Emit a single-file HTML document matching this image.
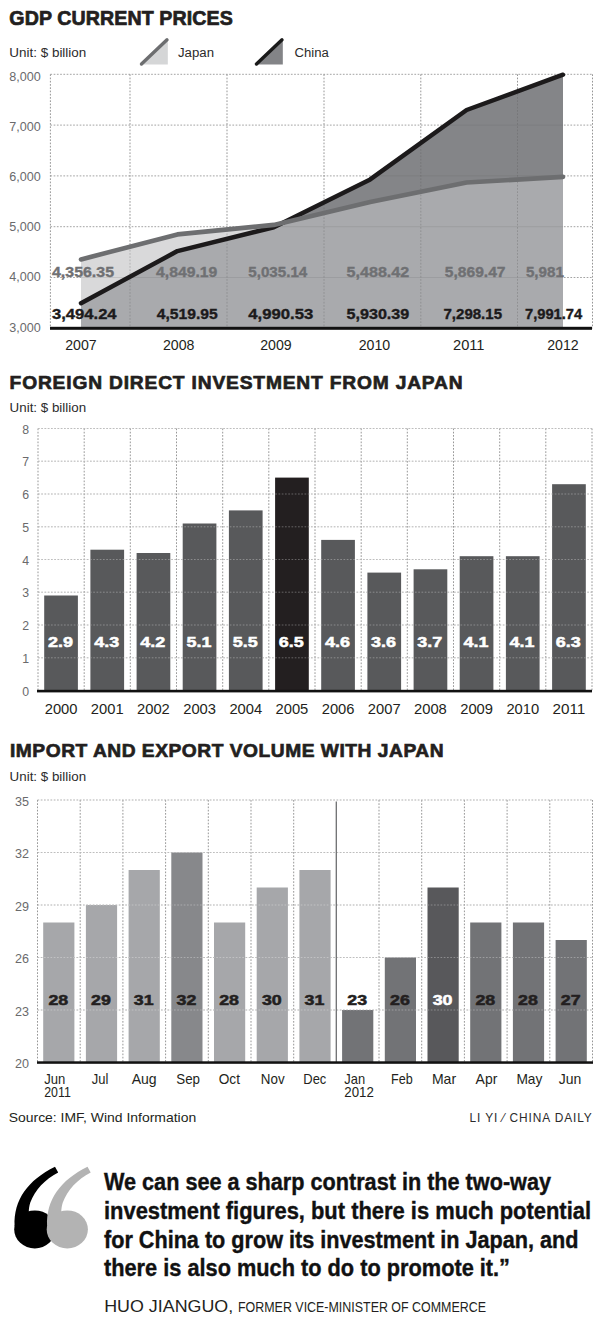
<!DOCTYPE html>
<html><head><meta charset="utf-8"><style>
html,body{margin:0;padding:0;background:#fff;width:600px;height:1323px;overflow:hidden}
svg{display:block}
text{font-family:"Liberation Sans", sans-serif}
</style></head><body>
<svg width="600" height="1323" viewBox="0 0 600 1323">
<rect width="600" height="1323" fill="#fff"/>
<text x="9.3" y="25" font-size="19.6" fill="#231f20" font-weight="bold" textLength="223.5" lengthAdjust="spacing" stroke="#231f20" stroke-width="0.7">GDP CURRENT PRICES</text>
<text x="9.3" y="57" font-size="12.8" fill="#2b2b2b" textLength="77" lengthAdjust="spacingAndGlyphs">Unit: $ billion</text>
<text x="9.6" y="389" font-size="19.2" fill="#231f20" font-weight="bold" textLength="453" lengthAdjust="spacing" stroke="#231f20" stroke-width="0.7">FOREIGN DIRECT INVESTMENT FROM JAPAN</text>
<text x="9.6" y="412" font-size="12.8" fill="#2b2b2b" textLength="76.5" lengthAdjust="spacingAndGlyphs">Unit: $ billion</text>
<text x="10" y="757" font-size="19.2" fill="#231f20" font-weight="bold" textLength="433.5" lengthAdjust="spacing" stroke="#231f20" stroke-width="0.7">IMPORT AND EXPORT VOLUME WITH JAPAN</text>
<text x="9.6" y="781" font-size="12.8" fill="#2b2b2b" textLength="76.5" lengthAdjust="spacingAndGlyphs">Unit: $ billion</text>
<polygon points="141,64.5 167.8,39 167.8,64.5" fill="#d5d6d7"/>
<line x1="141.5" y1="64" x2="167" y2="39.8" stroke="#6d6e70" stroke-width="3.4" stroke-linecap="round"/>
<text x="178" y="56.8" font-size="12.3" fill="#2b2b2b" textLength="36" lengthAdjust="spacingAndGlyphs">Japan</text>
<polygon points="256,64.5 282.8,39 282.8,64.5" fill="#838487"/>
<line x1="256.5" y1="64" x2="282" y2="39.8" stroke="#1a1a1a" stroke-width="3.4" stroke-linecap="round"/>
<text x="294.5" y="56.8" font-size="12.3" fill="#2b2b2b" textLength="34.3" lengthAdjust="spacingAndGlyphs">China</text>
<line x1="50.4" y1="328.3" x2="592.5" y2="328.3" stroke="#a3a3a3" stroke-width="1" stroke-dasharray="1.7 1.55"/>
<line x1="50.4" y1="277.5" x2="592.5" y2="277.5" stroke="#a3a3a3" stroke-width="1" stroke-dasharray="1.7 1.55"/>
<line x1="50.4" y1="226.7" x2="592.5" y2="226.7" stroke="#a3a3a3" stroke-width="1" stroke-dasharray="1.7 1.55"/>
<line x1="50.4" y1="175.9" x2="592.5" y2="175.9" stroke="#a3a3a3" stroke-width="1" stroke-dasharray="1.7 1.55"/>
<line x1="50.4" y1="125.1" x2="592.5" y2="125.1" stroke="#a3a3a3" stroke-width="1" stroke-dasharray="1.7 1.55"/>
<line x1="50.4" y1="74.3" x2="592.5" y2="74.3" stroke="#a3a3a3" stroke-width="1" stroke-dasharray="1.7 1.55"/>
<line x1="50.4" y1="74.3" x2="50.4" y2="328.3" stroke="#979797" stroke-width="1" stroke-dasharray="1.7 1.55"/>
<line x1="130" y1="74.3" x2="130" y2="328.3" stroke="#979797" stroke-width="1" stroke-dasharray="1.7 1.55"/>
<line x1="227" y1="74.3" x2="227" y2="328.3" stroke="#979797" stroke-width="1" stroke-dasharray="1.7 1.55"/>
<line x1="324" y1="74.3" x2="324" y2="328.3" stroke="#979797" stroke-width="1" stroke-dasharray="1.7 1.55"/>
<line x1="420.8" y1="74.3" x2="420.8" y2="328.3" stroke="#979797" stroke-width="1" stroke-dasharray="1.7 1.55"/>
<line x1="517.5" y1="74.3" x2="517.5" y2="328.3" stroke="#979797" stroke-width="1" stroke-dasharray="1.7 1.55"/>
<line x1="592.5" y1="74.3" x2="592.5" y2="328.3" stroke="#979797" stroke-width="1" stroke-dasharray="1.7 1.55"/>
<defs><clipPath id="cc"><polygon points="81.0,328.3 81.0,303.2 177.4,251.1 273.8,227.2 370.2,179.4 466.6,110.0 563.0,74.7 563.0,328.3"/></clipPath></defs>
<polygon points="81.0,328.3 81.0,259.4 177.4,234.4 273.8,224.9 370.2,201.9 466.6,182.5 563.0,176.9 563.0,328.3" fill="#d9d9da"/>
<polygon points="81.0,328.3 81.0,303.2 177.4,251.1 273.8,227.2 370.2,179.4 466.6,110.0 563.0,74.7 563.0,328.3" fill="#848588"/>
<polygon points="81.0,328.3 81.0,259.4 177.4,234.4 273.8,224.9 370.2,201.9 466.6,182.5 563.0,176.9 563.0,328.3" fill="#a9aaad" clip-path="url(#cc)"/>
<defs><clipPath id="mx"><polygon points="81.0,328.3 81.0,259.4 177.4,234.4 273.8,224.9 282.6,222.8 370.2,179.4 466.6,110.0 563.0,74.7 563.0,328.3"/></clipPath></defs>
<g clip-path="url(#mx)">
<line x1="130" y1="74.3" x2="130" y2="328.3" stroke="#555" stroke-opacity="0.3" stroke-width="1" stroke-dasharray="1.7 1.55"/>
<line x1="227" y1="74.3" x2="227" y2="328.3" stroke="#555" stroke-opacity="0.3" stroke-width="1" stroke-dasharray="1.7 1.55"/>
<line x1="324" y1="74.3" x2="324" y2="328.3" stroke="#555" stroke-opacity="0.3" stroke-width="1" stroke-dasharray="1.7 1.55"/>
<line x1="420.8" y1="74.3" x2="420.8" y2="328.3" stroke="#555" stroke-opacity="0.3" stroke-width="1" stroke-dasharray="1.7 1.55"/>
<line x1="517.5" y1="74.3" x2="517.5" y2="328.3" stroke="#555" stroke-opacity="0.3" stroke-width="1" stroke-dasharray="1.7 1.55"/>
<line x1="81.0" y1="277.5" x2="563.0" y2="277.5" stroke="#555" stroke-opacity="0.15" stroke-width="1"/>
<line x1="81.0" y1="226.7" x2="563.0" y2="226.7" stroke="#555" stroke-opacity="0.15" stroke-width="1"/>
<line x1="81.0" y1="175.9" x2="563.0" y2="175.9" stroke="#555" stroke-opacity="0.15" stroke-width="1"/>
<line x1="81.0" y1="125.1" x2="563.0" y2="125.1" stroke="#555" stroke-opacity="0.15" stroke-width="1"/>
<line x1="81.0" y1="74.3" x2="563.0" y2="74.3" stroke="#555" stroke-opacity="0.15" stroke-width="1"/>
</g>
<polyline points="81.0,303.2 177.4,251.1 273.8,227.2 370.2,179.4 466.6,110.0 563.0,74.7" fill="none" stroke="#1c1a1b" stroke-width="4.5" stroke-linecap="round" stroke-linejoin="round"/>
<polyline points="81.0,259.4 177.4,234.4 273.8,224.9 370.2,201.9 466.6,182.5 563.0,176.9" fill="none" stroke="#6d6e70" stroke-width="4.6" stroke-linecap="round" stroke-linejoin="round"/>
<rect x="50" y="326.8" width="542" height="3" fill="#111"/>
<text x="40.8" y="331.5" font-size="12" fill="#6a6a6c" text-anchor="end" textLength="31.5" lengthAdjust="spacingAndGlyphs">3,000</text>
<text x="40.8" y="281.3" font-size="12" fill="#6a6a6c" text-anchor="end" textLength="31.5" lengthAdjust="spacingAndGlyphs">4,000</text>
<text x="40.8" y="231.1" font-size="12" fill="#6a6a6c" text-anchor="end" textLength="31.5" lengthAdjust="spacingAndGlyphs">5,000</text>
<text x="40.8" y="180.9" font-size="12" fill="#6a6a6c" text-anchor="end" textLength="31.5" lengthAdjust="spacingAndGlyphs">6,000</text>
<text x="40.8" y="130.7" font-size="12" fill="#6a6a6c" text-anchor="end" textLength="31.5" lengthAdjust="spacingAndGlyphs">7,000</text>
<text x="40.8" y="80.5" font-size="12" fill="#6a6a6c" text-anchor="end" textLength="31.5" lengthAdjust="spacingAndGlyphs">8,000</text>
<text x="81" y="350" font-size="14.2" fill="#231f20" text-anchor="middle" textLength="31.5" lengthAdjust="spacingAndGlyphs">2007</text>
<text x="178.75" y="350" font-size="14.2" fill="#231f20" text-anchor="middle" textLength="31.5" lengthAdjust="spacingAndGlyphs">2008</text>
<text x="276" y="350" font-size="14.2" fill="#231f20" text-anchor="middle" textLength="31.5" lengthAdjust="spacingAndGlyphs">2009</text>
<text x="374.5" y="350" font-size="14.2" fill="#231f20" text-anchor="middle" textLength="31.5" lengthAdjust="spacingAndGlyphs">2010</text>
<text x="468.75" y="350" font-size="14.2" fill="#231f20" text-anchor="middle" textLength="31.5" lengthAdjust="spacingAndGlyphs">2011</text>
<text x="563" y="350" font-size="14.2" fill="#231f20" text-anchor="middle" textLength="31.5" lengthAdjust="spacingAndGlyphs">2012</text>
<text x="52" y="277.3" font-size="14" fill="#6f7073" font-weight="bold" textLength="62" lengthAdjust="spacingAndGlyphs" stroke="#6f7073" stroke-width="0.35">4,356.35</text>
<text x="156" y="277.3" font-size="14" fill="#6f7073" font-weight="bold" textLength="61.3" lengthAdjust="spacingAndGlyphs" stroke="#6f7073" stroke-width="0.35">4,849.19</text>
<text x="248.3" y="277.3" font-size="14" fill="#6f7073" font-weight="bold" textLength="59" lengthAdjust="spacingAndGlyphs" stroke="#6f7073" stroke-width="0.35">5,035.14</text>
<text x="346.5" y="277.3" font-size="14" fill="#6f7073" font-weight="bold" textLength="62.8" lengthAdjust="spacingAndGlyphs" stroke="#6f7073" stroke-width="0.35">5,488.42</text>
<text x="444.8" y="277.3" font-size="14" fill="#6f7073" font-weight="bold" textLength="60.7" lengthAdjust="spacingAndGlyphs" stroke="#6f7073" stroke-width="0.35">5,869.47</text>
<text x="525.9" y="277.3" font-size="14" fill="#6f7073" font-weight="bold" textLength="38" lengthAdjust="spacingAndGlyphs" stroke="#6f7073" stroke-width="0.35">5,981</text>
<text x="52" y="319.3" font-size="14" fill="#1c1a1b" font-weight="bold" textLength="64.6" lengthAdjust="spacingAndGlyphs" stroke="#1c1a1b" stroke-width="0.35">3,494.24</text>
<text x="156.7" y="319.3" font-size="14" fill="#1c1a1b" font-weight="bold" textLength="61" lengthAdjust="spacingAndGlyphs" stroke="#1c1a1b" stroke-width="0.35">4,519.95</text>
<text x="248.3" y="319.3" font-size="14" fill="#1c1a1b" font-weight="bold" textLength="65" lengthAdjust="spacingAndGlyphs" stroke="#1c1a1b" stroke-width="0.35">4,990.53</text>
<text x="346.5" y="319.3" font-size="14" fill="#1c1a1b" font-weight="bold" textLength="62.8" lengthAdjust="spacingAndGlyphs" stroke="#1c1a1b" stroke-width="0.35">5,930.39</text>
<text x="443.5" y="319.3" font-size="14" fill="#1c1a1b" font-weight="bold" textLength="58.5" lengthAdjust="spacingAndGlyphs" stroke="#1c1a1b" stroke-width="0.35">7,298.15</text>
<text x="525" y="319.3" font-size="14" fill="#1c1a1b" font-weight="bold" textLength="57.2" lengthAdjust="spacingAndGlyphs" stroke="#1c1a1b" stroke-width="0.35">7,991.74</text>
<line x1="38" y1="690.5" x2="592" y2="690.5" stroke="#a3a3a3" stroke-width="1" stroke-dasharray="1.7 1.55"/>
<text x="29" y="695.5" font-size="12.3" fill="#6a6a6c" text-anchor="end">0</text>
<line x1="38" y1="657.8" x2="592" y2="657.8" stroke="#a3a3a3" stroke-width="1" stroke-dasharray="1.7 1.55"/>
<text x="29" y="662.8" font-size="12.3" fill="#6a6a6c" text-anchor="end">1</text>
<line x1="38" y1="625.0" x2="592" y2="625.0" stroke="#a3a3a3" stroke-width="1" stroke-dasharray="1.7 1.55"/>
<text x="29" y="630.0" font-size="12.3" fill="#6a6a6c" text-anchor="end">2</text>
<line x1="38" y1="592.2" x2="592" y2="592.2" stroke="#a3a3a3" stroke-width="1" stroke-dasharray="1.7 1.55"/>
<text x="29" y="597.2" font-size="12.3" fill="#6a6a6c" text-anchor="end">3</text>
<line x1="38" y1="559.5" x2="592" y2="559.5" stroke="#a3a3a3" stroke-width="1" stroke-dasharray="1.7 1.55"/>
<text x="29" y="564.5" font-size="12.3" fill="#6a6a6c" text-anchor="end">4</text>
<line x1="38" y1="526.8" x2="592" y2="526.8" stroke="#a3a3a3" stroke-width="1" stroke-dasharray="1.7 1.55"/>
<text x="29" y="531.8" font-size="12.3" fill="#6a6a6c" text-anchor="end">5</text>
<line x1="38" y1="494.0" x2="592" y2="494.0" stroke="#a3a3a3" stroke-width="1" stroke-dasharray="1.7 1.55"/>
<text x="29" y="499.0" font-size="12.3" fill="#6a6a6c" text-anchor="end">6</text>
<line x1="38" y1="461.2" x2="592" y2="461.2" stroke="#a3a3a3" stroke-width="1" stroke-dasharray="1.7 1.55"/>
<text x="29" y="466.2" font-size="12.3" fill="#6a6a6c" text-anchor="end">7</text>
<line x1="38" y1="428.5" x2="592" y2="428.5" stroke="#a3a3a3" stroke-width="1" stroke-dasharray="1.7 1.55"/>
<text x="29" y="433.5" font-size="12.3" fill="#6a6a6c" text-anchor="end">8</text>
<line x1="38.0" y1="428.5" x2="38.0" y2="690.5" stroke="#979797" stroke-width="1" stroke-dasharray="1.7 1.55"/>
<line x1="84.2" y1="428.5" x2="84.2" y2="690.5" stroke="#979797" stroke-width="1" stroke-dasharray="1.7 1.55"/>
<line x1="130.3" y1="428.5" x2="130.3" y2="690.5" stroke="#979797" stroke-width="1" stroke-dasharray="1.7 1.55"/>
<line x1="176.5" y1="428.5" x2="176.5" y2="690.5" stroke="#979797" stroke-width="1" stroke-dasharray="1.7 1.55"/>
<line x1="222.7" y1="428.5" x2="222.7" y2="690.5" stroke="#979797" stroke-width="1" stroke-dasharray="1.7 1.55"/>
<line x1="268.8" y1="428.5" x2="268.8" y2="690.5" stroke="#979797" stroke-width="1" stroke-dasharray="1.7 1.55"/>
<line x1="315.0" y1="428.5" x2="315.0" y2="690.5" stroke="#979797" stroke-width="1" stroke-dasharray="1.7 1.55"/>
<line x1="361.2" y1="428.5" x2="361.2" y2="690.5" stroke="#979797" stroke-width="1" stroke-dasharray="1.7 1.55"/>
<line x1="407.3" y1="428.5" x2="407.3" y2="690.5" stroke="#979797" stroke-width="1" stroke-dasharray="1.7 1.55"/>
<line x1="453.5" y1="428.5" x2="453.5" y2="690.5" stroke="#979797" stroke-width="1" stroke-dasharray="1.7 1.55"/>
<line x1="499.7" y1="428.5" x2="499.7" y2="690.5" stroke="#979797" stroke-width="1" stroke-dasharray="1.7 1.55"/>
<line x1="545.8" y1="428.5" x2="545.8" y2="690.5" stroke="#979797" stroke-width="1" stroke-dasharray="1.7 1.55"/>
<line x1="592.0" y1="428.5" x2="592.0" y2="690.5" stroke="#979797" stroke-width="1" stroke-dasharray="1.7 1.55"/>
<rect x="44.2" y="595.5" width="33.7" height="95.0" fill="#58595b"/>
<rect x="90.4" y="549.7" width="33.7" height="140.8" fill="#58595b"/>
<rect x="136.6" y="553.0" width="33.7" height="137.5" fill="#58595b"/>
<rect x="182.7" y="523.5" width="33.7" height="167.0" fill="#58595b"/>
<rect x="228.9" y="510.4" width="33.7" height="180.1" fill="#58595b"/>
<rect x="275.1" y="477.6" width="33.7" height="212.9" fill="#231f20"/>
<rect x="321.2" y="539.9" width="33.7" height="150.6" fill="#58595b"/>
<rect x="367.4" y="572.6" width="33.7" height="117.9" fill="#58595b"/>
<rect x="413.6" y="569.3" width="33.7" height="121.2" fill="#58595b"/>
<rect x="459.7" y="556.2" width="33.7" height="134.3" fill="#58595b"/>
<rect x="505.9" y="556.2" width="33.7" height="134.3" fill="#58595b"/>
<rect x="552.1" y="484.2" width="33.7" height="206.3" fill="#58595b"/>
<line x1="38" y1="657.8" x2="592" y2="657.8" stroke="#ffffff" stroke-opacity="0.3" stroke-width="1" stroke-dasharray="1.7 1.55"/>
<line x1="38" y1="625.0" x2="592" y2="625.0" stroke="#ffffff" stroke-opacity="0.3" stroke-width="1" stroke-dasharray="1.7 1.55"/>
<line x1="38" y1="592.2" x2="592" y2="592.2" stroke="#ffffff" stroke-opacity="0.3" stroke-width="1" stroke-dasharray="1.7 1.55"/>
<line x1="38" y1="559.5" x2="592" y2="559.5" stroke="#ffffff" stroke-opacity="0.3" stroke-width="1" stroke-dasharray="1.7 1.55"/>
<line x1="38" y1="526.8" x2="592" y2="526.8" stroke="#ffffff" stroke-opacity="0.3" stroke-width="1" stroke-dasharray="1.7 1.55"/>
<line x1="38" y1="494.0" x2="592" y2="494.0" stroke="#ffffff" stroke-opacity="0.3" stroke-width="1" stroke-dasharray="1.7 1.55"/>
<line x1="38" y1="461.2" x2="592" y2="461.2" stroke="#ffffff" stroke-opacity="0.3" stroke-width="1" stroke-dasharray="1.7 1.55"/>
<line x1="38" y1="428.5" x2="592" y2="428.5" stroke="#ffffff" stroke-opacity="0.3" stroke-width="1" stroke-dasharray="1.7 1.55"/>
<rect x="37" y="689.8" width="555" height="2.6" fill="#111"/>
<text x="60.5" y="647.4" font-size="14.8" fill="#ffffff" font-weight="bold" text-anchor="middle" textLength="25" lengthAdjust="spacingAndGlyphs" stroke="#ffffff" stroke-width="0.5">2.9</text>
<text x="106.7" y="647.4" font-size="14.8" fill="#ffffff" font-weight="bold" text-anchor="middle" textLength="25" lengthAdjust="spacingAndGlyphs" stroke="#ffffff" stroke-width="0.5">4.3</text>
<text x="152.8" y="647.4" font-size="14.8" fill="#ffffff" font-weight="bold" text-anchor="middle" textLength="25" lengthAdjust="spacingAndGlyphs" stroke="#ffffff" stroke-width="0.5">4.2</text>
<text x="199.0" y="647.4" font-size="14.8" fill="#ffffff" font-weight="bold" text-anchor="middle" textLength="25" lengthAdjust="spacingAndGlyphs" stroke="#ffffff" stroke-width="0.5">5.1</text>
<text x="245.2" y="647.4" font-size="14.8" fill="#ffffff" font-weight="bold" text-anchor="middle" textLength="25" lengthAdjust="spacingAndGlyphs" stroke="#ffffff" stroke-width="0.5">5.5</text>
<text x="291.3" y="647.4" font-size="14.8" fill="#ffffff" font-weight="bold" text-anchor="middle" textLength="25" lengthAdjust="spacingAndGlyphs" stroke="#ffffff" stroke-width="0.5">6.5</text>
<text x="337.5" y="647.4" font-size="14.8" fill="#ffffff" font-weight="bold" text-anchor="middle" textLength="25" lengthAdjust="spacingAndGlyphs" stroke="#ffffff" stroke-width="0.5">4.6</text>
<text x="383.6" y="647.4" font-size="14.8" fill="#ffffff" font-weight="bold" text-anchor="middle" textLength="25" lengthAdjust="spacingAndGlyphs" stroke="#ffffff" stroke-width="0.5">3.6</text>
<text x="429.8" y="647.4" font-size="14.8" fill="#ffffff" font-weight="bold" text-anchor="middle" textLength="25" lengthAdjust="spacingAndGlyphs" stroke="#ffffff" stroke-width="0.5">3.7</text>
<text x="476.0" y="647.4" font-size="14.8" fill="#ffffff" font-weight="bold" text-anchor="middle" textLength="25" lengthAdjust="spacingAndGlyphs" stroke="#ffffff" stroke-width="0.5">4.1</text>
<text x="522.1" y="647.4" font-size="14.8" fill="#ffffff" font-weight="bold" text-anchor="middle" textLength="25" lengthAdjust="spacingAndGlyphs" stroke="#ffffff" stroke-width="0.5">4.1</text>
<text x="568.3" y="647.4" font-size="14.8" fill="#ffffff" font-weight="bold" text-anchor="middle" textLength="25" lengthAdjust="spacingAndGlyphs" stroke="#ffffff" stroke-width="0.5">6.3</text>
<text x="61.1" y="714.2" font-size="14.5" fill="#231f20" text-anchor="middle" textLength="32.8" lengthAdjust="spacingAndGlyphs">2000</text>
<text x="107.2" y="714.2" font-size="14.5" fill="#231f20" text-anchor="middle" textLength="32.8" lengthAdjust="spacingAndGlyphs">2001</text>
<text x="153.4" y="714.2" font-size="14.5" fill="#231f20" text-anchor="middle" textLength="32.8" lengthAdjust="spacingAndGlyphs">2002</text>
<text x="199.6" y="714.2" font-size="14.5" fill="#231f20" text-anchor="middle" textLength="32.8" lengthAdjust="spacingAndGlyphs">2003</text>
<text x="245.8" y="714.2" font-size="14.5" fill="#231f20" text-anchor="middle" textLength="32.8" lengthAdjust="spacingAndGlyphs">2004</text>
<text x="291.9" y="714.2" font-size="14.5" fill="#231f20" text-anchor="middle" textLength="32.8" lengthAdjust="spacingAndGlyphs">2005</text>
<text x="338.1" y="714.2" font-size="14.5" fill="#231f20" text-anchor="middle" textLength="32.8" lengthAdjust="spacingAndGlyphs">2006</text>
<text x="384.2" y="714.2" font-size="14.5" fill="#231f20" text-anchor="middle" textLength="32.8" lengthAdjust="spacingAndGlyphs">2007</text>
<text x="430.4" y="714.2" font-size="14.5" fill="#231f20" text-anchor="middle" textLength="32.8" lengthAdjust="spacingAndGlyphs">2008</text>
<text x="476.6" y="714.2" font-size="14.5" fill="#231f20" text-anchor="middle" textLength="32.8" lengthAdjust="spacingAndGlyphs">2009</text>
<text x="522.8" y="714.2" font-size="14.5" fill="#231f20" text-anchor="middle" textLength="32.8" lengthAdjust="spacingAndGlyphs">2010</text>
<text x="568.9" y="714.2" font-size="14.5" fill="#231f20" text-anchor="middle" textLength="32.8" lengthAdjust="spacingAndGlyphs">2011</text>
<line x1="37.5" y1="1062.5" x2="592.5" y2="1062.5" stroke="#a3a3a3" stroke-width="1" stroke-dasharray="1.7 1.55"/>
<text x="29" y="1068.0" font-size="12.3" fill="#6a6a6c" text-anchor="end" textLength="14" lengthAdjust="spacingAndGlyphs">20</text>
<line x1="37.5" y1="1010.0" x2="592.5" y2="1010.0" stroke="#a3a3a3" stroke-width="1" stroke-dasharray="1.7 1.55"/>
<text x="29" y="1015.5" font-size="12.3" fill="#6a6a6c" text-anchor="end" textLength="14" lengthAdjust="spacingAndGlyphs">23</text>
<line x1="37.5" y1="957.5" x2="592.5" y2="957.5" stroke="#a3a3a3" stroke-width="1" stroke-dasharray="1.7 1.55"/>
<text x="29" y="963.0" font-size="12.3" fill="#6a6a6c" text-anchor="end" textLength="14" lengthAdjust="spacingAndGlyphs">26</text>
<line x1="37.5" y1="905.0" x2="592.5" y2="905.0" stroke="#a3a3a3" stroke-width="1" stroke-dasharray="1.7 1.55"/>
<text x="29" y="910.5" font-size="12.3" fill="#6a6a6c" text-anchor="end" textLength="14" lengthAdjust="spacingAndGlyphs">29</text>
<line x1="37.5" y1="852.5" x2="592.5" y2="852.5" stroke="#a3a3a3" stroke-width="1" stroke-dasharray="1.7 1.55"/>
<text x="29" y="858.0" font-size="12.3" fill="#6a6a6c" text-anchor="end" textLength="14" lengthAdjust="spacingAndGlyphs">32</text>
<line x1="37.5" y1="800.0" x2="592.5" y2="800.0" stroke="#a3a3a3" stroke-width="1" stroke-dasharray="1.7 1.55"/>
<text x="29" y="805.5" font-size="12.3" fill="#6a6a6c" text-anchor="end" textLength="14" lengthAdjust="spacingAndGlyphs">35</text>
<line x1="37.5" y1="800.0" x2="37.5" y2="1062.5" stroke="#979797" stroke-width="1" stroke-dasharray="1.7 1.55"/>
<line x1="80.2" y1="800.0" x2="80.2" y2="1062.5" stroke="#979797" stroke-width="1" stroke-dasharray="1.7 1.55"/>
<line x1="122.9" y1="800.0" x2="122.9" y2="1062.5" stroke="#979797" stroke-width="1" stroke-dasharray="1.7 1.55"/>
<line x1="165.6" y1="800.0" x2="165.6" y2="1062.5" stroke="#979797" stroke-width="1" stroke-dasharray="1.7 1.55"/>
<line x1="208.3" y1="800.0" x2="208.3" y2="1062.5" stroke="#979797" stroke-width="1" stroke-dasharray="1.7 1.55"/>
<line x1="251.0" y1="800.0" x2="251.0" y2="1062.5" stroke="#979797" stroke-width="1" stroke-dasharray="1.7 1.55"/>
<line x1="293.7" y1="800.0" x2="293.7" y2="1062.5" stroke="#979797" stroke-width="1" stroke-dasharray="1.7 1.55"/>
<line x1="379.0" y1="800.0" x2="379.0" y2="1062.5" stroke="#979797" stroke-width="1" stroke-dasharray="1.7 1.55"/>
<line x1="421.7" y1="800.0" x2="421.7" y2="1062.5" stroke="#979797" stroke-width="1" stroke-dasharray="1.7 1.55"/>
<line x1="464.4" y1="800.0" x2="464.4" y2="1062.5" stroke="#979797" stroke-width="1" stroke-dasharray="1.7 1.55"/>
<line x1="507.1" y1="800.0" x2="507.1" y2="1062.5" stroke="#979797" stroke-width="1" stroke-dasharray="1.7 1.55"/>
<line x1="549.8" y1="800.0" x2="549.8" y2="1062.5" stroke="#979797" stroke-width="1" stroke-dasharray="1.7 1.55"/>
<line x1="592.5" y1="800.0" x2="592.5" y2="1062.5" stroke="#979797" stroke-width="1" stroke-dasharray="1.7 1.55"/>
<rect x="43.2" y="922.5" width="31.2" height="140.0" fill="#a6a7aa"/>
<rect x="85.9" y="905.0" width="31.2" height="157.5" fill="#a6a7aa"/>
<rect x="128.6" y="870.0" width="31.2" height="192.5" fill="#a6a7aa"/>
<rect x="171.3" y="852.5" width="31.2" height="210.0" fill="#87888b"/>
<rect x="214.0" y="922.5" width="31.2" height="140.0" fill="#a6a7aa"/>
<rect x="256.7" y="887.5" width="31.2" height="175.0" fill="#a6a7aa"/>
<rect x="299.4" y="870.0" width="31.2" height="192.5" fill="#a6a7aa"/>
<rect x="342.1" y="1010.0" width="31.2" height="52.5" fill="#727376"/>
<rect x="384.8" y="957.5" width="31.2" height="105.0" fill="#727376"/>
<rect x="427.5" y="887.5" width="31.2" height="175.0" fill="#58585b"/>
<rect x="470.2" y="922.5" width="31.2" height="140.0" fill="#727376"/>
<rect x="512.9" y="922.5" width="31.2" height="140.0" fill="#727376"/>
<rect x="555.6" y="940.0" width="31.2" height="122.5" fill="#727376"/>
<line x1="37.5" y1="1010.0" x2="592.5" y2="1010.0" stroke="#ffffff" stroke-opacity="0.3" stroke-width="1" stroke-dasharray="1.7 1.55"/>
<line x1="37.5" y1="957.5" x2="592.5" y2="957.5" stroke="#ffffff" stroke-opacity="0.3" stroke-width="1" stroke-dasharray="1.7 1.55"/>
<line x1="37.5" y1="905.0" x2="592.5" y2="905.0" stroke="#ffffff" stroke-opacity="0.3" stroke-width="1" stroke-dasharray="1.7 1.55"/>
<line x1="37.5" y1="852.5" x2="592.5" y2="852.5" stroke="#ffffff" stroke-opacity="0.3" stroke-width="1" stroke-dasharray="1.7 1.55"/>
<line x1="37.5" y1="800.0" x2="592.5" y2="800.0" stroke="#ffffff" stroke-opacity="0.3" stroke-width="1" stroke-dasharray="1.7 1.55"/>
<line x1="336.3" y1="801.5" x2="336.3" y2="1062" stroke="#6d6e70" stroke-width="1.3"/>
<rect x="37" y="1061.3" width="556" height="2.5" fill="#111"/>
<text x="58.3" y="1004.5" font-size="14" fill="#231f20" font-weight="bold" text-anchor="middle" textLength="19.8" lengthAdjust="spacingAndGlyphs" stroke="#231f20" stroke-width="0.5">28</text>
<text x="101.0" y="1004.5" font-size="14" fill="#231f20" font-weight="bold" text-anchor="middle" textLength="19.8" lengthAdjust="spacingAndGlyphs" stroke="#231f20" stroke-width="0.5">29</text>
<text x="143.7" y="1004.5" font-size="14" fill="#231f20" font-weight="bold" text-anchor="middle" textLength="19.8" lengthAdjust="spacingAndGlyphs" stroke="#231f20" stroke-width="0.5">31</text>
<text x="186.4" y="1004.5" font-size="14" fill="#231f20" font-weight="bold" text-anchor="middle" textLength="19.8" lengthAdjust="spacingAndGlyphs" stroke="#231f20" stroke-width="0.5">32</text>
<text x="229.1" y="1004.5" font-size="14" fill="#231f20" font-weight="bold" text-anchor="middle" textLength="19.8" lengthAdjust="spacingAndGlyphs" stroke="#231f20" stroke-width="0.5">28</text>
<text x="271.8" y="1004.5" font-size="14" fill="#231f20" font-weight="bold" text-anchor="middle" textLength="19.8" lengthAdjust="spacingAndGlyphs" stroke="#231f20" stroke-width="0.5">30</text>
<text x="314.5" y="1004.5" font-size="14" fill="#231f20" font-weight="bold" text-anchor="middle" textLength="19.8" lengthAdjust="spacingAndGlyphs" stroke="#231f20" stroke-width="0.5">31</text>
<text x="357.2" y="1004.5" font-size="14" fill="#231f20" font-weight="bold" text-anchor="middle" textLength="19.8" lengthAdjust="spacingAndGlyphs" stroke="#231f20" stroke-width="0.5">23</text>
<text x="399.9" y="1004.5" font-size="14" fill="#231f20" font-weight="bold" text-anchor="middle" textLength="19.8" lengthAdjust="spacingAndGlyphs" stroke="#231f20" stroke-width="0.5">26</text>
<text x="442.6" y="1004.5" font-size="14" fill="#ffffff" font-weight="bold" text-anchor="middle" textLength="19.8" lengthAdjust="spacingAndGlyphs" stroke="#ffffff" stroke-width="0.5">30</text>
<text x="485.3" y="1004.5" font-size="14" fill="#231f20" font-weight="bold" text-anchor="middle" textLength="19.8" lengthAdjust="spacingAndGlyphs" stroke="#231f20" stroke-width="0.5">28</text>
<text x="528.0" y="1004.5" font-size="14" fill="#231f20" font-weight="bold" text-anchor="middle" textLength="19.8" lengthAdjust="spacingAndGlyphs" stroke="#231f20" stroke-width="0.5">28</text>
<text x="570.7" y="1004.5" font-size="14" fill="#231f20" font-weight="bold" text-anchor="middle" textLength="19.8" lengthAdjust="spacingAndGlyphs" stroke="#231f20" stroke-width="0.5">27</text>
<text x="44.2" y="1083.7" font-size="14.3" fill="#231f20" textLength="21.1" lengthAdjust="spacingAndGlyphs">Jun</text>
<text x="91.7" y="1083.7" font-size="14.3" fill="#231f20" textLength="16.6" lengthAdjust="spacingAndGlyphs">Jul</text>
<text x="131.7" y="1083.7" font-size="14.3" fill="#231f20" textLength="25" lengthAdjust="spacingAndGlyphs">Aug</text>
<text x="176.25" y="1083.7" font-size="14.3" fill="#231f20" textLength="23.75" lengthAdjust="spacingAndGlyphs">Sep</text>
<text x="218.75" y="1083.7" font-size="14.3" fill="#231f20" textLength="21.25" lengthAdjust="spacingAndGlyphs">Oct</text>
<text x="260.8" y="1083.7" font-size="14.3" fill="#231f20" textLength="23.8" lengthAdjust="spacingAndGlyphs">Nov</text>
<text x="303.3" y="1083.7" font-size="14.3" fill="#231f20" textLength="23" lengthAdjust="spacingAndGlyphs">Dec</text>
<text x="344.3" y="1083.7" font-size="14.3" fill="#231f20" textLength="20.8" lengthAdjust="spacingAndGlyphs">Jan</text>
<text x="391.1" y="1083.7" font-size="14.3" fill="#231f20" textLength="21.7" lengthAdjust="spacingAndGlyphs">Feb</text>
<text x="431.9" y="1083.7" font-size="14.3" fill="#231f20" textLength="24.2" lengthAdjust="spacingAndGlyphs">Mar</text>
<text x="475.6" y="1083.7" font-size="14.3" fill="#231f20" textLength="21.7" lengthAdjust="spacingAndGlyphs">Apr</text>
<text x="516.4" y="1083.7" font-size="14.3" fill="#231f20" textLength="26" lengthAdjust="spacingAndGlyphs">May</text>
<text x="558.8" y="1083.7" font-size="14.3" fill="#231f20" textLength="22.6" lengthAdjust="spacingAndGlyphs">Jun</text>
<text x="44.2" y="1096.7" font-size="14" fill="#231f20" textLength="26.6" lengthAdjust="spacingAndGlyphs">2011</text>
<text x="344.3" y="1096.7" font-size="14" fill="#231f20" textLength="29.5" lengthAdjust="spacingAndGlyphs">2012</text>
<text x="8.7" y="1122" font-size="13" fill="#231f20" textLength="187.5" lengthAdjust="spacingAndGlyphs">Source: IMF, Wind Information</text>
<text x="469.5" y="1121.9" font-size="11.9" fill="#2b2b2b" textLength="122.3" lengthAdjust="spacing">LI YI ⁄ CHINA DAILY</text>
<g transform="translate(0,0)" fill="#000000"><path d="M55,1166.8 L58.2,1172.4 C45,1179 35,1190 30.3,1202.5 C29.2,1206 28.8,1209 28.8,1212 L14.6,1226 C13.5,1200 28,1180 55,1166.8 Z"/><ellipse cx="34.8" cy="1229.4" rx="20.6" ry="19"/></g>
<g transform="translate(32.5,0)" fill="#b3b3b3"><path d="M55,1166.8 L58.2,1172.4 C45,1179 35,1190 30.3,1202.5 C29.2,1206 28.8,1209 28.8,1212 L14.6,1226 C13.5,1200 28,1180 55,1166.8 Z"/><ellipse cx="34.8" cy="1229.4" rx="20.6" ry="19"/></g>
<text x="104" y="1190.3" font-size="24.4" fill="#111111" font-weight="bold" textLength="447" lengthAdjust="spacingAndGlyphs" stroke="#111111" stroke-width="0.4">We can see a sharp contrast in the two-way</text>
<text x="104" y="1219" font-size="24.4" fill="#111111" font-weight="bold" textLength="487" lengthAdjust="spacingAndGlyphs" stroke="#111111" stroke-width="0.4">investment figures, but there is much potential</text>
<text x="104" y="1247.6" font-size="24.4" fill="#111111" font-weight="bold" textLength="474.5" lengthAdjust="spacingAndGlyphs" stroke="#111111" stroke-width="0.4">for China to grow its investment in Japan, and</text>
<text x="104" y="1276" font-size="24.4" fill="#111111" font-weight="bold" textLength="406" lengthAdjust="spacingAndGlyphs" stroke="#111111" stroke-width="0.4">there is also much to do to promote it.”</text>
<text x="104.2" y="1312.3" font-size="16.3" fill="#231f20" textLength="129" lengthAdjust="spacingAndGlyphs">HUO JIANGUO,</text>
<text x="238" y="1312.3" font-size="14.4" fill="#231f20" textLength="248" lengthAdjust="spacingAndGlyphs">FORMER VICE-MINISTER OF COMMERCE</text>
</svg></body></html>
